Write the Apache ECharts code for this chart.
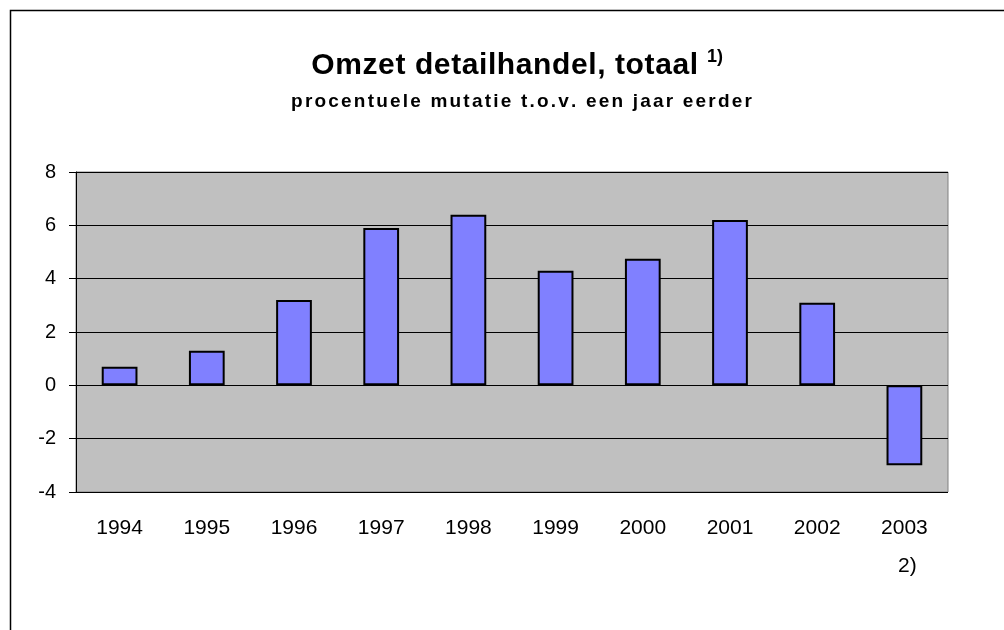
<!DOCTYPE html>
<html>
<head>
<meta charset="utf-8">
<script src="https://cdn.jsdelivr.net/npm/echarts@6/dist/echarts.min.js"></script>
<style>
  html, body { margin: 0; padding: 0; background: #fff; }
  #main { width: 1004px; height: 630px; }
</style>
</head>
<body>
<div id="main"></div>
<script>
var years = ['1994', '1995', '1996', '1997', '1998', '1999', '2000', '2001', '2002', '2003'];
var yearNotes = ['', '', '', '', '', '', '', '', '', '2)'];
var mutatie = [0.7, 1.3, 3.2, 5.9, 6.4, 4.3, 4.75, 6.2, 3.1, -3.0];
var yMin = -4;
var yMax = 8;
var yStep = 2;
var titleText = 'Omzet detailhandel, totaal';
var titleNote = '1)';
var subText = 'procentuele mutatie t.o.v. een jaar eerder';

var font = "'Liberation Sans', Arial, sans-serif";

// excel spreads the letters a bit, fake it with one rich token per char
function spaced(str, key) {
    return str.split('').map(function (c) {
        return '{' + key + '|' + c + '}';
    }).join('');
}

var myChart = echarts.init(document.getElementById('main'));

var option = {
    backgroundColor: '#fff',
    animation: false,
    title: [{
        text: spaced(titleText, 't'),
        left: 306,
        top: 46,
        textStyle: {
            rich: {
                t: { fontFamily: font, fontSize: 30, fontWeight: 'bold', color: '#000', padding: [0, 0.3, 0, 0.3] }
            }
        }
    }, {
        text: titleNote,
        left: 702,
        top: 43,
        textStyle: { fontFamily: font, fontSize: 18, fontWeight: 'bold', color: '#000' }
    }, {
        text: spaced(subText, 's'),
        left: 285,
        top: 87,
        textStyle: {
            rich: {
                s: { fontFamily: font, fontSize: 19, fontWeight: 'bold', color: '#000', padding: [0, 1.1, 0, 1.1] }
            }
        }
    }],
    graphic: [{
        type: 'rect',
        shape: { x: 10.5, y: 10.5, width: 1100, height: 1000 },
        style: { fill: 'none', stroke: '#000', lineWidth: 1.5 },
        silent: true
    }],
    grid: {
        left: 76,
        right: 56,
        top: 172,
        bottom: 138,
        show: true,
        backgroundColor: '#c0c0c0',
        borderColor: '#808080',
        borderWidth: 1
    },
    xAxis: {
        type: 'category',
        data: years,
        position: 'bottom',
        axisLine: { show: false, onZero: false },
        axisTick: { show: false },
        axisLabel: {
            interval: 0,
            margin: 17,
            color: '#000',
            fontFamily: font,
            fontSize: 21,
            lineHeight: 38,
            verticalAlign: 'top',
            formatter: function (v, i) {
                return yearNotes[i] ? v + '\n ' + yearNotes[i] : v;
            }
        }
    },
    yAxis: {
        type: 'value',
        min: yMin,
        max: yMax,
        interval: yStep,
        axisLine: { show: true, lineStyle: { color: '#000', width: 1 } },
        axisTick: { show: true, length: 7, lineStyle: { color: '#000' } },
        axisLabel: {
            margin: 20,
            color: '#000',
            fontFamily: font,
            fontSize: 20
        },
        splitLine: { show: true, lineStyle: { color: '#000', width: 1 } }
    },
    series: [{
        type: 'bar',
        data: mutatie,
        barWidth: '41%',
        itemStyle: {
            color: '#8080ff',
            borderColor: '#000',
            borderWidth: 2
        }
    }]
};
myChart.setOption(option);
</script>
</body>
</html>
